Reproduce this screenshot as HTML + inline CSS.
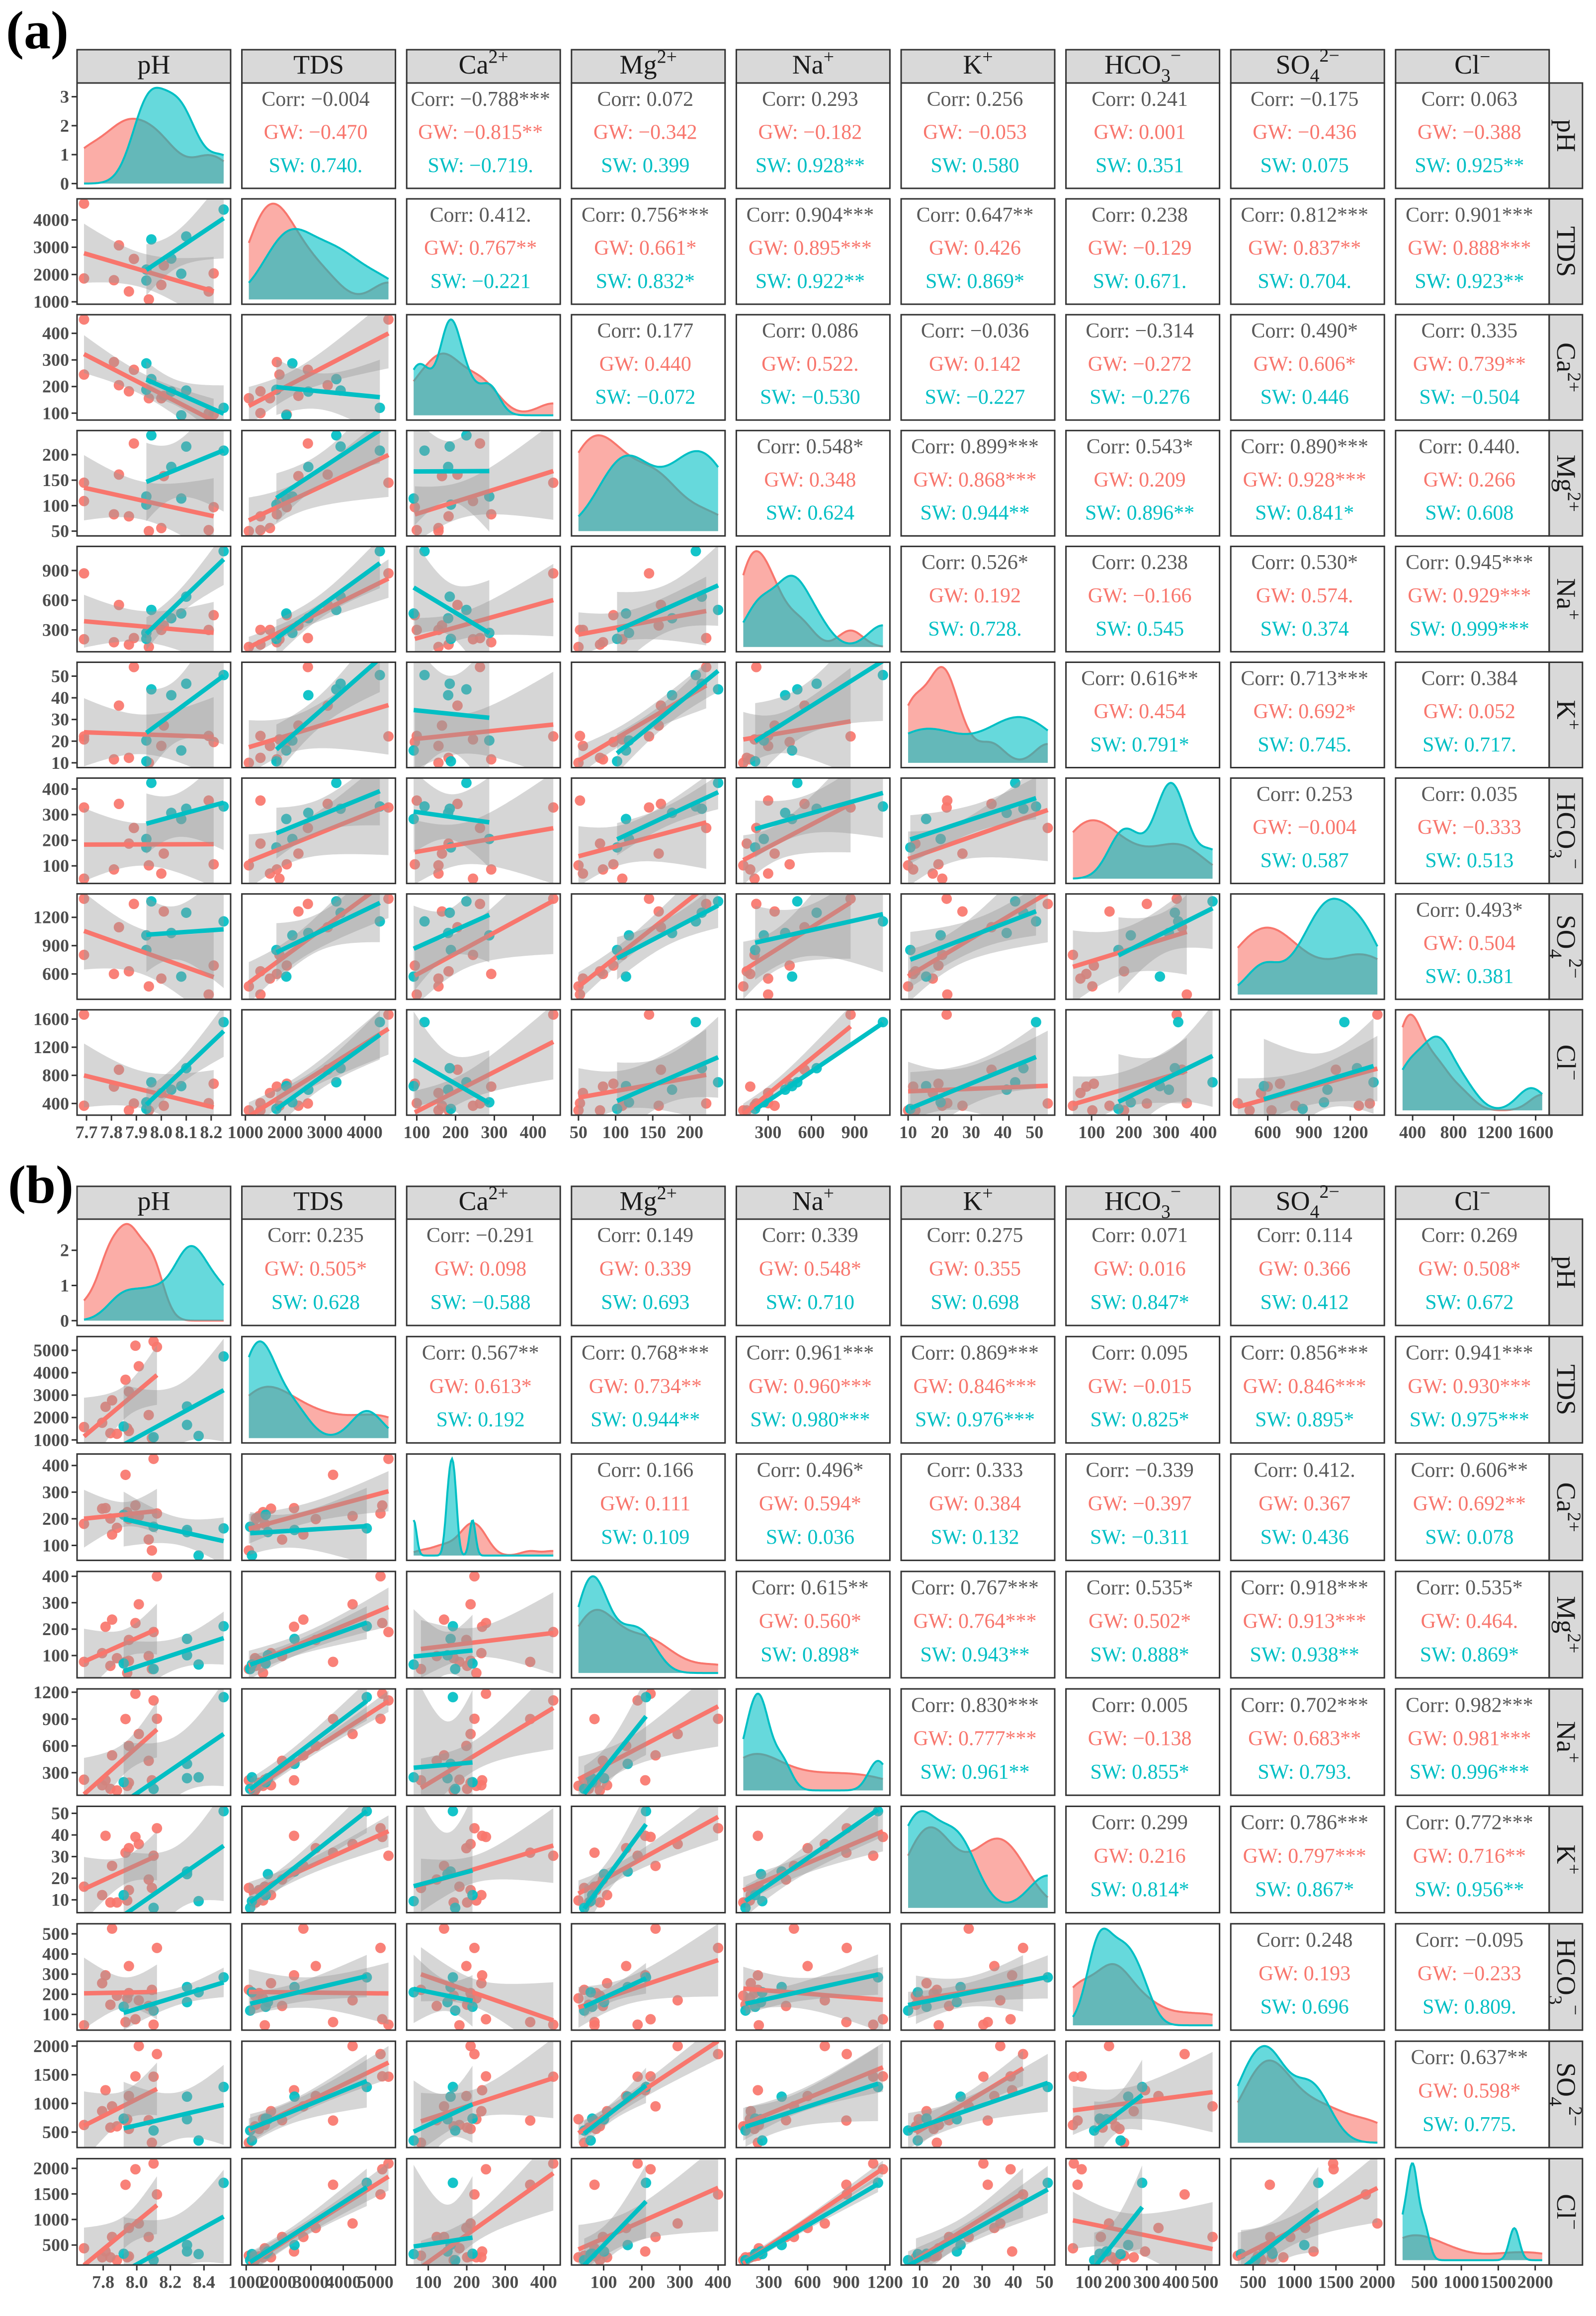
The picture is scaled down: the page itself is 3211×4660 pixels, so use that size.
<!DOCTYPE html>
<html><head><meta charset="utf-8">
<style>
html,body{margin:0;padding:0;background:#fff;}
svg{display:block;font-family:"Liberation Serif","DejaVu Serif",serif;}
</style></head>
<body>
<svg id="chart" xmlns="http://www.w3.org/2000/svg" width="3211" height="4660" viewBox="0 0 3211 4660">
<rect x="0" y="0" width="3211" height="4660" fill="#fff"/>
</svg>
<script>
// ---------- DATA ----------
// Panel (a)
const aGW_pH   = [7.69,7.69,7.81,7.83,7.87,7.89,7.95,8.00,8.01,8.19,8.21];
const aGW_TDS  = [4597,1856,1791,3069,1379,2571,1087,1618,2333,1379,2040];
const aGW_Ca   = [452,245,292,205,182,263,156,156,165,100,95];
const aGW_Mg   = [145,109,83,161,79,222,50,56,158,52,97];
const aGW_Na   = [871,206,176,552,152,218,128,300,345,300,449];
const aGW_K    = [22.2,20.8,11.6,36.4,12.3,54.2,10,17.8,27.2,22.4,19.6];
const aGW_HCO3 = [328,50,86,342,187,248,102,70,148,355,106];
const aGW_SO4  = [1397,802,600,1095,628,1342,468,551,1262,382,689];
const aGW_Cl   = [1664,368,640,880,302,400,302,549,368,404,681];
const aSW_pH   = [7.94,7.94,7.96,8.04,8.08,8.10,8.25];
const aSW_TDS  = [2181,1780,3286,2582,2029,3394,4380];
const aSW_Ca   = [287,188,228,181,92,185,120];
const aSW_Mg   = [118,102,238,176,114,216,208];
const aSW_Na   = [270,210,502,418,466,636,1095];
const aSW_K    = [20.3,10.7,43.9,41.2,15.7,46.5,50.5];
const aSW_HCO3 = [205,172,424,307,283,323,332];
const aSW_SO4  = [1009,854,1369,1034,572,1249,1157];
const aSW_Cl   = [417,323,702,596,647,902,1557];
// Panel (b)
const bGW_pH   = [7.686,7.794,7.814,7.843,7.853,7.882,7.933,7.943,7.953,7.953,7.992,8.012,8.071,8.090,8.100,8.120];
const bGW_TDS  = [1575,1767,2479,1301,2767,1274,3685,1521,3151,1397,5205,4288,2110,1082,5397,5151];
const bGW_Ca   = [181,238,240,201,141,166,365,225,199,210,250,210,122,81,425,220];
const bGW_Mg   = [76,109,209,61,236,90,76,34,159,80,223,294,98,49,189,400];
const bGW_Na   = [222,160,215,119,494,102,900,153,600,188,1183,733,433,215,1108,903];
const bGW_K    = [16.1,12.2,39.6,8.8,25.7,8.8,31.8,9.7,33.9,14.5,39.1,35.8,19.4,15.5,30.4,43.1];
const bGW_HCO3 = [46,255,294,148,526,193,62,180,340,206,76,170,142,222,49,430];
const bGW_SO4  = [624,865,1230,579,949,601,702,725,1129,556,1472,2000,708,315,1466,1860];
const bGW_Cl   = [437,260,374,260,658,204,1679,260,834,279,1982,922,658,292,2095,1490];
const bSW_pH   = [7.922,8.100,8.299,8.299,8.368,8.517];
const bSW_TDS  = [1603,1123,2493,1671,1178,4726];
const bSW_Ca   = [215,170,158,150,62,164];
const bSW_Mg   = [70,49,163,101,66,211];
const bSW_Na   = [194,119,399,239,249,1145];
const bSW_K    = [12.2,6.3,23.1,21.9,9.4,51];
const bSW_HCO3 = [138,119,236,161,210,284];
const bSW_SO4  = [736,528,1118,725,354,1287];
const bSW_Cl   = [330,204,500,374,323,1717];

// Tick labels
const aTicks = [
  ['7.7','7.8','7.9','8.0','8.1','8.2'],['1000','2000','3000','4000'],['100','200','300','400'],
  ['50','100','150','200'],['300','600','900'],['10','20','30','40','50'],
  ['100','200','300','400'],['600','900','1200'],['400','800','1200','1600']];
const aDensTicks = ['0','1','2','3'];
const bTicks = [
  ['7.8','8.0','8.2','8.4'],['1000','2000','3000','4000','5000'],['100','200','300','400'],
  ['100','200','300','400'],['300','600','900','1200'],['10','20','30','40','50'],
  ['100','200','300','400','500'],['500','1000','1500','2000'],['500','1000','1500','2000']];
const bDensTicks = ['0','1','2'];

// Correlation labels (upper triangle, row-major)
const aCorr = ['−0.004','−0.788***','0.072','0.293','0.256','0.241','−0.175','0.063',
  '0.412.','0.756***','0.904***','0.647**','0.238','0.812***','0.901***',
  '0.177','0.086','−0.036','−0.314','0.490*','0.335',
  '0.548*','0.899***','0.543*','0.890***','0.440.',
  '0.526*','0.238','0.530*','0.945***',
  '0.616**','0.713***','0.384','0.253','0.035','0.493*'];
const aGWc = ['−0.470','−0.815**','−0.342','−0.182','−0.053','0.001','−0.436','−0.388',
  '0.767**','0.661*','0.895***','0.426','−0.129','0.837**','0.888***',
  '0.440','0.522.','0.142','−0.272','0.606*','0.739**',
  '0.348','0.868***','0.209','0.928***','0.266',
  '0.192','−0.166','0.574.','0.929***',
  '0.454','0.692*','0.052','−0.004','−0.333','0.504'];
const aSWc = ['0.740.','−0.719.','0.399','0.928**','0.580','0.351','0.075','0.925**',
  '−0.221','0.832*','0.922**','0.869*','0.671.','0.704.','0.923**',
  '−0.072','−0.530','−0.227','−0.276','0.446','−0.504',
  '0.624','0.944**','0.896**','0.841*','0.608',
  '0.728.','0.545','0.374','0.999***',
  '0.791*','0.745.','0.717.','0.587','0.513','0.381'];
const bCorr = ['0.235','−0.291','0.149','0.339','0.275','0.071','0.114','0.269',
  '0.567**','0.768***','0.961***','0.869***','0.095','0.856***','0.941***',
  '0.166','0.496*','0.333','−0.339','0.412.','0.606**',
  '0.615**','0.767***','0.535*','0.918***','0.535*',
  '0.830***','0.005','0.702***','0.982***',
  '0.299','0.786***','0.772***','0.248','−0.095','0.637**'];
const bGWc = ['0.505*','0.098','0.339','0.548*','0.355','0.016','0.366','0.508*',
  '0.613*','0.734**','0.960***','0.846***','−0.015','0.846***','0.930***',
  '0.111','0.594*','0.384','−0.397','0.367','0.692**',
  '0.560*','0.764***','0.502*','0.913***','0.464.',
  '0.777***','−0.138','0.683**','0.981***',
  '0.216','0.797***','0.716**','0.193','−0.233','0.598*'];
const bSWc = ['0.628','−0.588','0.693','0.710','0.698','0.847*','0.412','0.672',
  '0.192','0.944**','0.980***','0.976***','0.825*','0.895*','0.975***',
  '0.109','0.036','0.132','−0.311','0.436','0.078',
  '0.898*','0.943**','0.888*','0.938**','0.869*',
  '0.961**','0.855*','0.793.','0.996***',
  '0.814*','0.867*','0.956**','0.696','0.809.','0.775.'];

const varNames = ['pH','TDS','Ca','Mg','Na','K','HCO3','SO4','Cl'];
const varLabels = [[['pH','n']],[['TDS','n']],[['Ca','n'],['2+','sup']],[['Mg','n'],['2+','sup']],
  [['Na','n'],['+','sup']],[['K','n'],['+','sup']],[['HCO','n'],['3','sub'],['−','supAfterSub']],
  [['SO','n'],['4','sub'],['2−','supAfterSub']],[['Cl','n'],['−','sup']]];

// ---------- RENDER ----------
const NS='http://www.w3.org/2000/svg';
const svg=document.getElementById('chart');
const RED='#F8766D', CYAN='#00BFC4';
const X0=155, PX=331.6, PW=309;
function mk(tag,attrs,parent){const e=document.createElementNS(NS,tag);for(const k in attrs)e.setAttribute(k,attrs[k]);parent.appendChild(e);return e;}

const figs=[
 {id:'a',label:'(a)',lx:12,ly:97,stripTop:100,top:167,PY:233.1,H:212,
  gw:[aGW_pH,aGW_TDS,aGW_Ca,aGW_Mg,aGW_Na,aGW_K,aGW_HCO3,aGW_SO4,aGW_Cl],
  sw:[aSW_pH,aSW_TDS,aSW_Ca,aSW_Mg,aSW_Na,aSW_K,aSW_HCO3,aSW_SO4,aSW_Cl],
  ticks:aTicks,dens:aDensTicks,corr:aCorr,gwc:aGWc,swc:aSWc},
 {id:'b',label:'(b)',lx:16,ly:2420,stripTop:2387,top:2453,PY:236.3,H:214,
  gw:[bGW_pH,bGW_TDS,bGW_Ca,bGW_Mg,bGW_Na,bGW_K,bGW_HCO3,bGW_SO4,bGW_Cl],
  sw:[bSW_pH,bSW_TDS,bSW_Ca,bSW_Mg,bSW_Na,bSW_K,bSW_HCO3,bSW_SO4,bSW_Cl],
  ticks:bTicks,dens:bDensTicks,corr:bCorr,gwc:bGWc,swc:bSWc}
];

function mean(a){return a.reduce((s,v)=>s+v,0)/a.length;}
function sd(a){const m=mean(a);return Math.sqrt(a.reduce((s,v)=>s+(v-m)*(v-m),0)/(a.length-1));}
function quant(a,p){const s=[...a].sort((x,y)=>x-y);const h=(s.length-1)*p;const l=Math.floor(h);return s[l]+(h-l)*((s[Math.min(l+1,s.length-1)])-s[l]);}
function bw(a){const s=sd(a);const iqr=(quant(a,0.75)-quant(a,0.25))/1.34;let lo=Math.min(s,iqr>0?iqr:s);return 0.9*lo*Math.pow(a.length,-0.2);}
function kde(a,x,h){let s=0;for(const v of a){const z=(x-v)/h;s+=Math.exp(-0.5*z*z);}return s/(a.length*h*Math.sqrt(2*Math.PI));}
const T975={1:12.71,2:4.30,3:3.18,4:2.78,5:2.57,6:2.45,7:2.36,8:2.31,9:2.26,10:2.23,11:2.20,12:2.18,13:2.16,14:2.14,15:2.13,16:2.12};
function tq(df){return T975[df]||2.1;}

function addLabel(textEl,segs,fs){
  for(const [s,kind] of segs){
    const t=mk('tspan',{},textEl);t.textContent=s;
    if(kind==='sup'){t.setAttribute('dy',-fs*0.4);t.setAttribute('font-size',fs*0.7);}
    else if(kind==='sub'){t.setAttribute('dy',fs*0.3);t.setAttribute('font-size',fs*0.7);}
    else if(kind==='supAfterSub'){t.setAttribute('dy',-fs*0.75);t.setAttribute('font-size',fs*0.7);}
  }
}

figs.forEach(F=>{
  const g=mk('g',{},svg);
  
  
  const lab=mk('text',{x:F.lx,y:F.ly,'font-size':108,'font-weight':'bold',fill:'#000'},g);
  lab.textContent=F.label;
  
  

  // scales
  const doms=F.gw.map((a,i)=>{const all=a.concat(F.sw[i]);let lo=Math.min(...all),hi=Math.max(...all);const e=(hi-lo)*0.05;return [lo-e,hi+e];});
  const colX=j=>X0+j*PX;
  const rowY=i=>F.top+i*F.PY;
  const sx=(j,v)=>colX(j)+(v-doms[j][0])/(doms[j][1]-doms[j][0])*PW;
  const sy=(i,v)=>rowY(i)+F.H-(v-doms[i][0])/(doms[i][1]-doms[i][0])*F.H;

  // top strips
  for(let j=0;j<9;j++){
    const sg=mk('g',{},g);
    
    
    mk('rect',{x:colX(j),y:F.stripTop,width:PW,height:F.top-F.stripTop,fill:'#d9d9d9',stroke:'#333','stroke-width':3},sg);
    const t=mk('text',{x:colX(j)+PW/2,y:F.stripTop+(F.top-F.stripTop)*0.72,'text-anchor':'middle','font-size':54,fill:'#1a1a1a'},sg);
    addLabel(t,varLabels[j],54);
  }
  // right strips
  for(let i=0;i<9;i++){
    const sg=mk('g',{},g);
    
    
    const x=colX(8)+PW, y=rowY(i);
    mk('rect',{x:x,y:y,width:67,height:F.H,fill:'#d9d9d9',stroke:'#333','stroke-width':3},sg);
    const t=mk('text',{x:0,y:0,'text-anchor':'middle','font-size':54,fill:'#1a1a1a',transform:`translate(${x+16},${y+F.H/2}) rotate(90)`},sg);
    addLabel(t,varLabels[i],54);
  }

  let ui=0;
  for(let i=0;i<9;i++){
    for(let j=0;j<9;j++){
      const x=colX(j), y=rowY(i);
      const cell=mk('g',{},g);
      
      
      const cid='clip-'+F.id+'-'+i+'-'+j;
      const cp=mk('clipPath',{id:cid},cell);
      mk('rect',{x:x,y:y,width:PW,height:F.H},cp);
      const inner=mk('g',{'clip-path':`url(#${cid})`},cell);
      if(i<j){
        const lines=[['Corr: '+F.corr[ui],'#595959',0.15],['GW: '+F.gwc[ui],RED,0.465],['SW: '+F.swc[ui],CYAN,0.78]];
        lines.forEach((L,k)=>{
          const t=mk('text',{x:x+PW/2-6,y:y+F.H*L[2]+14,'text-anchor':'middle','font-size':42,fill:L[1]},cell);
          t.textContent=L[0];
          
          
        });
        ui++;
      } else if(i===j){
        const lo=doms[j][0]+(doms[j][1]-doms[j][0])*0.05/1.1, hi=doms[j][1]-(doms[j][1]-doms[j][0])*0.05/1.1;
        const groups=[[F.gw[j],RED,'density-gw'],[F.sw[j],CYAN,'density-sw']];
        const curves=groups.map(G=>{const h=bw(G[0]);const pts=[];for(let k=0;k<=120;k++){const xv=lo+(hi-lo)*k/120;pts.push([xv,kde(G[0],xv,h)]);}return pts;});
        const ymax=Math.max(...curves.map(c=>Math.max(...c.map(p=>p[1]))));
        const dlo=-ymax*0.05, dhi=ymax*1.05;
        const dy=v=>y+F.H-(v-dlo)/(dhi-dlo)*F.H;
        curves.forEach((c,k)=>{
          let d='M'+sx(j,c[0][0])+','+dy(0);
          c.forEach(p=>{d+='L'+sx(j,p[0]).toFixed(1)+','+dy(p[1]).toFixed(1);});
          d+='L'+sx(j,c[c.length-1][0])+','+dy(0)+'Z';
          const pth=mk('path',{d:d,fill:groups[k][1],'fill-opacity':0.6,stroke:'none'},inner);
          
          
          let dl='M'+c.map(p=>sx(j,p[0]).toFixed(1)+','+dy(p[1]).toFixed(1)).join('L');
          const ln=mk('path',{d:dl,fill:'none',stroke:groups[k][1],'stroke-width':4},inner);
          
          
        });
        if(j===0){
          F.dens.forEach(s=>{
            const v=parseFloat(s), yy=dy(v);
            const tk=mk('line',{x1:x-11,x2:x,y1:yy,y2:yy,stroke:'#333','stroke-width':3},cell);
            
            
            const tl=mk('text',{x:x-16,y:yy+12,'text-anchor':'end','font-size':36,'font-weight':'bold',fill:'#4d4d4d'},cell);
            tl.textContent=s;
            
            
          });
        }
      } else {
        const groups=[[F.gw[j],F.gw[i],RED,'gw'],[F.sw[j],F.sw[i],CYAN,'sw']];
        groups.forEach(G=>{
          G[0].forEach((xv,k)=>{
            const c=mk('circle',{cx:sx(j,xv),cy:sy(i,G[1][k]),r:10.5,fill:G[2],'fill-opacity':0.92},inner);
            
            
          });
        });
        groups.forEach(G=>{
          const xs=G[0], ys=G[1], n=xs.length, mx=mean(xs), my=mean(ys);
          let sxx=0,sxy=0;for(let k=0;k<n;k++){sxx+=(xs[k]-mx)**2;sxy+=(xs[k]-mx)*(ys[k]-my);}
          const b=sxy/sxx, a0=my-b*mx;
          let sse=0;for(let k=0;k<n;k++){sse+=(ys[k]-a0-b*xs[k])**2;}
          const s=Math.sqrt(sse/(n-2)), t=tq(n-2);
          const xmin=Math.min(...xs), xmax=Math.max(...xs);
          const up=[],dn=[];
          for(let k=0;k<=60;k++){const xv=xmin+(xmax-xmin)*k/60;const fit=a0+b*xv;const se=s*Math.sqrt(1/n+(xv-mx)**2/sxx);
            up.push(sx(j,xv).toFixed(1)+','+sy(i,fit+t*se).toFixed(1));dn.push(sx(j,xv).toFixed(1)+','+sy(i,fit-t*se).toFixed(1));}
          const band=mk('path',{d:'M'+up.join('L')+'L'+dn.reverse().join('L')+'Z',fill:'#999999','fill-opacity':0.4},inner);
          
          
          const ln=mk('line',{x1:sx(j,xmin),y1:sy(i,a0+b*xmin),x2:sx(j,xmax),y2:sy(i,a0+b*xmax),stroke:G[2],'stroke-width':9},inner);
          
          
        });
        if(j===0){
          F.ticks[i].forEach(s=>{
            const v=parseFloat(s), yy=sy(i,v);
            const tk=mk('line',{x1:x-11,x2:x,y1:yy,y2:yy,stroke:'#333','stroke-width':3},cell);
            
            
            const tl=mk('text',{x:x-16,y:yy+12,'text-anchor':'end','font-size':36,'font-weight':'bold',fill:'#4d4d4d'},cell);
            tl.textContent=s;
            
            
          });
        }
      }
      // bottom axis
      if(i===8){
        F.ticks[j].forEach(s=>{
          const v=parseFloat(s), xx=sx(j,v);
          const tk=mk('line',{x1:xx,x2:xx,y1:y+F.H,y2:y+F.H+11,stroke:'#333','stroke-width':3},cell);
          
          
          const tl=mk('text',{x:xx,y:y+F.H+46,'text-anchor':'middle','font-size':36,'font-weight':'bold',fill:'#4d4d4d'},cell);
          tl.textContent=s;
          
          
        });
      }
      const br=mk('rect',{x:x,y:y,width:PW,height:F.H,fill:'none',stroke:'#333','stroke-width':3},cell);
      
      
    }
  }
});
</script>
</body></html>
